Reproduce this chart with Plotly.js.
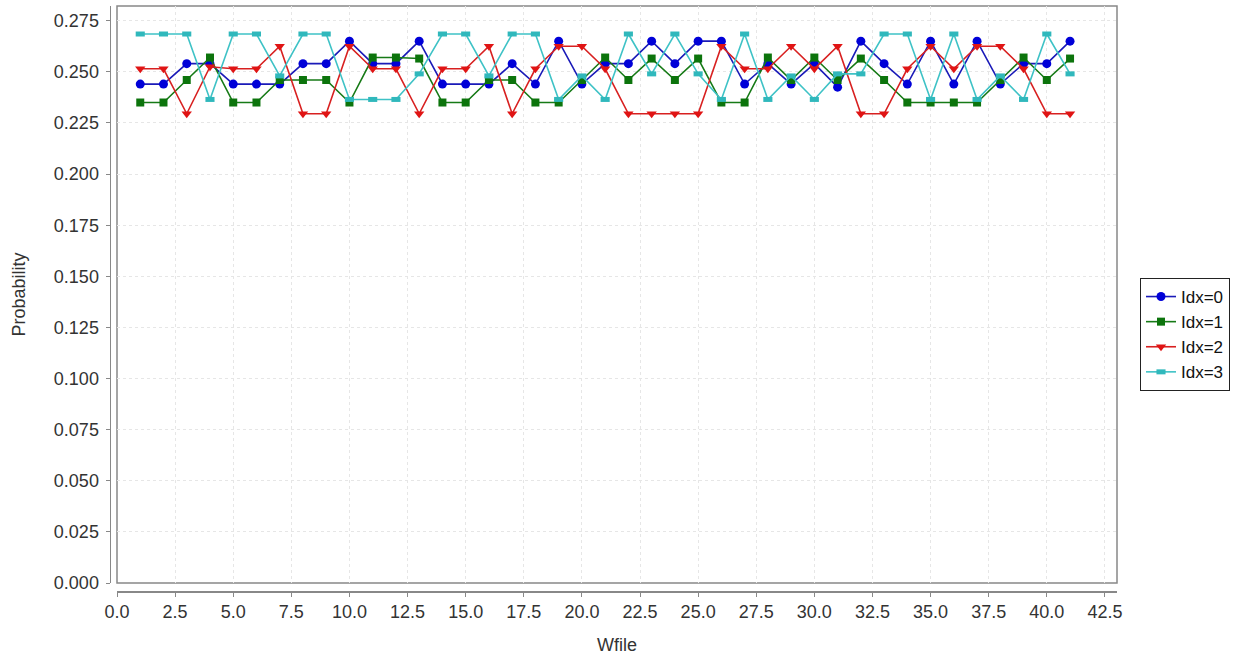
<!DOCTYPE html>
<html>
<head>
<meta charset="utf-8">
<script src="https://cdn.plot.ly/plotly-3.0.1.min.js"></script>
<style>
  html, body { margin: 0; padding: 0; background: #ffffff; }
  #chart { width: 1238px; height: 657px; }
</style>
</head>
<body>
<div id="chart"></div>
<script>
// Wfile index (x) for every series
const wfile = [1,2,3,4,5,6,7,8,9,10,11,12,13,14,15,16,17,18,19,20,21,
               22,23,24,25,26,27,28,29,30,31,32,33,34,35,36,37,38,39,40,41];

// Probability per Idx value
const idx0 = [0.244,0.244,0.254,0.254,0.244,0.244,0.244,0.254,0.254,0.265,
              0.254,0.254,0.265,0.244,0.244,0.244,0.254,0.244,0.265,0.244,
              0.254,0.254,0.265,0.254,0.265,0.265,0.244,0.254,0.244,0.254,
              0.2425,0.265,0.254,0.244,0.265,0.244,0.265,0.244,0.254,0.254,0.265];
const idx1 = [0.235,0.235,0.246,0.257,0.235,0.235,0.246,0.246,0.246,0.235,
              0.257,0.257,0.2565,0.235,0.235,0.246,0.246,0.235,0.235,0.246,
              0.257,0.246,0.2565,0.246,0.2565,0.235,0.235,0.257,0.246,0.257,
              0.246,0.2565,0.246,0.235,0.235,0.235,0.235,0.246,0.257,0.246,0.2565];
const idx2 = [0.2515,0.2515,0.2295,0.2525,0.2515,0.2515,0.2625,0.2295,0.2295,0.2625,
              0.2515,0.2515,0.2295,0.2515,0.2515,0.2625,0.2295,0.2515,0.2625,0.2625,
              0.2515,0.2295,0.2295,0.2295,0.2295,0.2625,0.2515,0.2515,0.2625,0.2515,
              0.2625,0.2295,0.2295,0.2515,0.2625,0.2515,0.2625,0.2625,0.2515,0.2295,0.2295];
const idx3 = [0.2685,0.2685,0.2685,0.2365,0.2685,0.2685,0.248,0.2685,0.2685,0.2365,
              0.2365,0.2365,0.249,0.2685,0.2685,0.248,0.2685,0.2685,0.2365,0.248,
              0.2365,0.2685,0.249,0.2685,0.249,0.2365,0.2685,0.2365,0.248,0.2365,
              0.249,0.249,0.2685,0.2685,0.2365,0.2685,0.2365,0.248,0.2365,0.2685,0.249];

const seriesNames = ['Idx=0', 'Idx=1', 'Idx=2', 'Idx=3'];

const FONT = 'Liberation Sans, Arial, sans-serif';

const traces = [
  {
    x: wfile, y: idx0, name: seriesNames[0], type: 'scatter', mode: 'lines+markers',
    line: { color: '#1a1ab8', width: 1.6 },
    marker: { symbol: 'circle', size: 9, color: '#0000d8' }
  },
  {
    x: wfile, y: idx1, name: seriesNames[1], type: 'scatter', mode: 'lines+markers',
    line: { color: '#167a16', width: 1.6 },
    marker: { symbol: 'square', size: 8, color: '#0c740c' }
  },
  {
    x: wfile, y: idx2, name: seriesNames[2], type: 'scatter', mode: 'lines+markers',
    line: { color: '#d82020', width: 1.6 },
    marker: { symbol: 'triangle-down', size: 9, color: '#e01414' }
  },
  {
    // small horizontal rectangle markers drawn as a thick east-west stroke
    x: wfile, y: idx3, name: seriesNames[3], type: 'scatter', mode: 'lines+markers',
    line: { color: '#3ec2c6', width: 1.6 },
    marker: { symbol: 'line-ew', size: 6.5, color: '#30b8bc',
              line: { color: '#30b8bc', width: 5 } }
  }
];

const layout = {
  width: 1238,
  height: 657,
  paper_bgcolor: '#ffffff',
  plot_bgcolor: '#ffffff',
  font: { family: FONT, size: 18, color: '#333333' },
  margin: { l: 100, r: 121, t: 6, b: 60 },
  showlegend: true,
  legend: {
    xref: 'container', yref: 'container',
    x: 1140 / 1238, y: 1 - 278 / 657,
    xanchor: 'left', yanchor: 'top',
    bordercolor: '#222222', borderwidth: 1,
    bgcolor: '#ffffff',
    font: { family: FONT, size: 17, color: '#111111' },
    itemwidth: 30
  },
  xaxis: {
    domain: [17 / 1017, 1],
    anchor: 'free',
    position: 6 / 591,
    range: [0, 43.02],
    dtick: 2.5,
    tick0: 0,
    tickformat: '.1f',
    ticks: 'outside',
    ticklen: 4,
    tickcolor: '#888888',
    showline: true,
    linecolor: '#888888',
    linewidth: 1.5,
    showgrid: true,
    gridcolor: '#e6e6e6',
    griddash: '3px,3px',
    gridwidth: 1,
    zeroline: false,
    tickfont: { family: FONT, size: 18, color: '#333333' },
    title: { text: 'Wfile', font: { family: FONT, size: 18, color: '#333333' }, standoff: 17 }
  },
  yaxis: {
    domain: [14 / 591, 1],
    anchor: 'free',
    position: 9.5 / 1017,
    range: [0, 0.2822],
    dtick: 0.025,
    tick0: 0,
    tickformat: '.3f',
    ticks: 'outside',
    ticklen: 4,
    tickcolor: '#888888',
    showline: true,
    linecolor: '#888888',
    linewidth: 1.5,
    showgrid: true,
    gridcolor: '#e6e6e6',
    griddash: '3px,3px',
    gridwidth: 1,
    zeroline: false,
    ticklabelstandoff: 3,
    tickfont: { family: FONT, size: 18, color: '#333333' },
    title: { text: 'Probability', font: { family: FONT, size: 18, color: '#333333' }, standoff: 22 }
  },
  shapes: [
    {
      type: 'rect', xref: 'x domain', yref: 'y domain',
      x0: 0, x1: 1, y0: 0, y1: 1,
      line: { color: '#888888', width: 1.5 },
      layer: 'below'
    }
  ]
};

Plotly.newPlot('chart', traces, layout, { displayModeBar: false, staticPlot: true });
</script>
</body>
</html>
